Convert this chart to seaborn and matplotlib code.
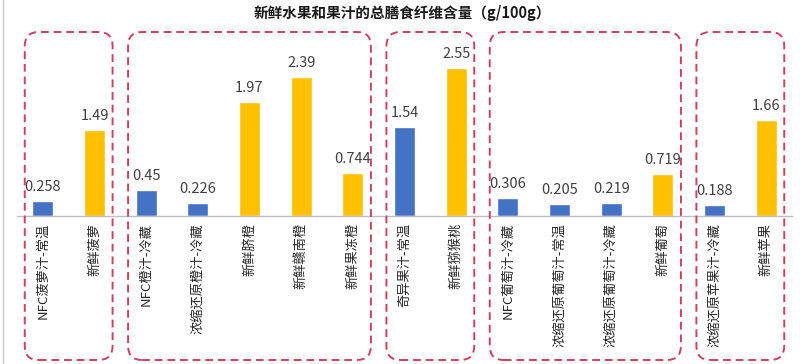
import numpy as np
import pandas as pd
import seaborn as sns
import matplotlib.pyplot as plt
from matplotlib.patches import FancyBboxPatch
from matplotlib.lines import Line2D

labels = ['NFC菠萝汁-常温', '新鲜菠萝', 'NFC橙汁-冷藏', '浓缩还原橙汁-冷藏', '新鲜脐橙',
          '新鲜赣南橙', '新鲜果冻橙', '奇异果汁-常温', '新鲜猕猴桃', 'NFC葡萄汁-冷藏',
          '浓缩还原葡萄汁-常温', '浓缩还原葡萄汁-冷藏', '新鲜葡萄', '浓缩还原苹果汁-冷藏', '新鲜苹果']
values = [0.258, 1.49, 0.45, 0.226, 1.97, 2.39, 0.744, 1.54, 2.55, 0.306, 0.205, 0.219, 0.719, 0.188, 1.66]
value_text = ['0.258', '1.49', '0.45', '0.226', '1.97', '2.39', '0.744', '1.54', '2.55',
              '0.306', '0.205', '0.219', '0.719', '0.188', '1.66']
kind = ['juice', 'fresh', 'juice', 'juice', 'fresh', 'fresh', 'fresh', 'juice', 'fresh',
        'juice', 'juice', 'juice', 'fresh', 'juice', 'fresh']
# fruit groups (first, last category index) for the dashed frames
groups = [(0, 1), (2, 6), (7, 8), (9, 12), (13, 14)]

palette = {'juice': '#4472C4', 'fresh': '#FFC000'}

sns.set_style('white')
plt.rcParams['font.family'] = ['Noto Sans CJK SC', 'DejaVu Sans']

df = pd.DataFrame({'label': labels, 'value': values, 'kind': kind})

fig = plt.figure(figsize=(8, 3.64), dpi=100)
ax = fig.add_axes([17 / 800, 148 / 364, 775 / 800, 174 / 364])
sns.barplot(data=df, x='label', y='value', hue='kind', palette=palette, dodge=False,
            width=0.41, legend=False, ax=ax, saturation=1)

# value labels, matched to bars by their x position
for cont in ax.containers:
    txt = []
    for bar in cont:
        i = int(round(bar.get_x() + bar.get_width() / 2))
        h = bar.get_height()
        txt.append(value_text[i] if not np.isnan(h) and h > 0 else '')
    ax.bar_label(cont, labels=txt, padding=5, fontsize=10.5, color='#404040')

ax.set_xlim(-0.5, len(labels) - 0.5)
ax.set_ylim(0, 3)
ax.set_xlabel('')
ax.set_ylabel('')
ax.set_yticks([])
for s in ['left', 'right', 'top']:
    ax.spines[s].set_visible(False)
ax.spines['bottom'].set_color('#BFBFBF')
ax.spines['bottom'].set_linewidth(1)
ax.set_xticks(np.arange(len(labels)))
ax.set_xticklabels(labels, rotation=90, fontsize=9.5, color='#262626', va='top')
ax.set_xticks(np.arange(-0.5, len(labels), 1), minor=True)
ax.tick_params(axis='x', which='major', length=0, pad=5)
ax.tick_params(axis='x', which='minor', length=5, color='#BFBFBF', width=1, direction='out')

fig.suptitle('新鲜水果和果汁的总膳食纤维含量（g/100g）', x=0.503, y=0.985,
             fontsize=10.5, fontweight='bold', color='#1a1a1a')

# dashed rounded frames around each fruit group (drawn in pixel space)
fig.canvas.draw()
for a, b in groups:
    x0 = ax.transData.transform((a - 0.35, 0))[0]
    x1 = ax.transData.transform((b + 0.35, 0))[0]
    box = FancyBboxPatch((x0, 4), x1 - x0, 328,
                         boxstyle='round,pad=0,rounding_size=14',
                         fill=False, edgecolor='#D0405E', linewidth=1.4,
                         linestyle=(0, (4, 2.5)), transform=None)
    fig.add_artist(box)

fig.add_artist(Line2D([2.5 / 800, 2.5 / 800], [0, 1], color='#C8C8C8', lw=1,
                      transform=fig.transFigure))

fig.savefig('out.png', dpi=100)
